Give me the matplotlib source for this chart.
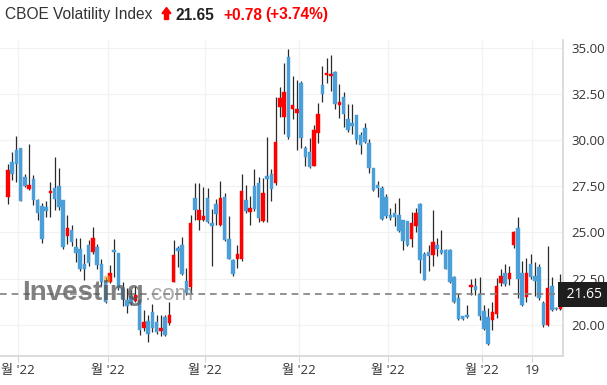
import matplotlib
matplotlib.use("Agg")
import matplotlib.pyplot as plt
import matplotlib.transforms as mtransforms
from matplotlib.patches import Polygon, Rectangle

# daily candles (oldest first)
opens = [26.91, 28.83, 29.44, 29.55, 28.00, 27.35, 27.87, 26.73, 26.41, 26.39,
         27.13, 27.38, 27.49, 26.73, 24.82, 25.11, 24.24, 24.08, 23.27, 24.31,
         23.94, 24.24, 23.32, 22.34, 22.34, 24.06, 23.88, 21.98, 21.35, 21.57,
         21.30, 21.35, 19.82, 20.23, 20.68, 20.18, 19.69, 20.45, 20.09, 22.34,
         24.15, 24.33, 22.38, 22.03, 26.84, 25.70, 25.70, 26.88, 25.49, 26.52,
         25.43, 26.93, 24.66, 23.50, 23.54, 23.54, 26.73, 26.10, 27.51, 27.69,
         25.61, 28.05, 28.18, 27.65, 31.79, 31.25, 34.51, 31.66, 31.48, 33.10,
         29.55, 29.37, 28.59, 30.36, 32.96, 33.50, 33.47, 33.68, 31.90, 32.33,
         31.12, 30.94, 31.34, 30.27, 30.67, 29.82, 28.47, 27.56, 27.42, 26.91,
         25.97, 26.03, 25.97, 25.65, 25.61, 24.67, 25.34, 26.52, 23.86, 23.97,
         23.77, 24.30, 24.03, 24.04, 24.03, 22.58, 21.46, 20.47, 20.56, 22.04,
         22.09, 21.70, 20.78, 20.42, 20.24, 20.61, 22.27, 22.82, 22.51, 24.35,
         25.22, 22.82, 21.50, 23.27, 22.64, 23.14, 21.19, 20.02, 22.11, 20.90,
         20.87]
highs = [28.68, 29.35, 30.22, 29.58, 28.14, 29.80, 28.09, 26.79, 26.61, 26.70,
         27.74, 29.06, 28.47, 26.75, 25.92, 25.43, 24.71, 24.68, 23.81, 24.60,
         25.31, 24.40, 23.54, 22.61, 23.25, 24.64, 23.90, 22.30, 21.98, 21.89,
         22.13, 21.40, 20.81, 20.54, 21.13, 20.54, 20.54, 20.54, 21.22, 24.60,
         24.28, 24.78, 23.07, 25.95, 27.69, 27.69, 27.45, 27.42, 26.28, 26.79,
         27.78, 27.15, 25.88, 23.54, 24.35, 28.14, 27.55, 26.97, 28.45, 28.00,
         27.96, 30.16, 28.41, 32.35, 32.89, 34.19, 34.95, 33.48, 33.25, 33.19,
         29.67, 30.13, 30.79, 32.02, 34.01, 34.46, 34.58, 33.74, 33.01, 32.62,
         31.97, 31.93, 31.34, 30.45, 30.94, 30.04, 28.50, 27.78, 27.51, 27.06,
         26.34, 26.61, 26.88, 25.65, 25.61, 26.10, 26.34, 26.57, 23.93, 24.30,
         26.21, 24.71, 25.16, 24.12, 24.12, 22.67, 21.73, 20.51, 21.10, 22.49,
         22.54, 22.60, 21.10, 20.92, 21.23, 22.54, 23.00, 23.27, 23.21, 25.07,
         25.85, 23.45, 23.63, 23.81, 23.39, 23.32, 21.28, 24.26, 22.58, 20.95,
         22.76]
lows = [26.52, 27.85, 27.74, 26.68, 27.45, 27.29, 26.46, 25.69, 24.44, 25.83,
        25.83, 26.23, 26.23, 24.12, 24.40, 24.26, 23.39, 22.91, 22.42, 23.21,
        23.81, 23.01, 22.09, 21.17, 22.25, 22.61, 21.89, 21.00, 20.63, 21.08,
        21.25, 19.46, 19.69, 19.10, 19.64, 19.51, 19.41, 19.41, 20.00, 22.34,
        23.16, 22.70, 21.62, 21.66, 25.70, 25.16, 25.61, 25.52, 23.18, 25.43,
        25.34, 24.53, 23.54, 22.64, 23.09, 23.45, 26.07, 25.43, 26.16, 25.56,
        25.56, 25.56, 26.70, 27.56, 31.25, 30.34, 30.04, 31.16, 29.44, 29.58,
        28.59, 28.47, 28.59, 29.86, 32.06, 33.10, 32.65, 31.70, 31.21, 30.72,
        30.43, 30.31, 29.80, 29.22, 29.82, 28.23, 27.24, 26.93, 25.70, 25.79,
        25.70, 25.34, 25.02, 24.03, 24.26, 24.22, 25.02, 22.82, 22.42, 22.91,
        23.21, 23.72, 23.81, 23.00, 22.27, 21.19, 20.29, 20.25, 20.38, 21.64,
        21.64, 20.29, 19.75, 18.90, 19.75, 20.38, 22.13, 22.09, 22.18, 24.17,
        21.46, 21.01, 21.23, 22.49, 21.55, 21.37, 19.89, 19.93, 20.76, 20.80,
        20.80]
closes = [28.36, 28.18, 28.72, 26.71, 27.51, 27.56, 26.75, 26.06, 24.64, 26.17,
          27.27, 26.80, 26.39, 24.19, 25.25, 24.49, 23.90, 23.05, 23.01, 23.36,
          24.68, 23.25, 22.33, 21.26, 22.79, 23.92, 21.98, 21.40, 21.05, 21.21,
          21.62, 19.73, 20.14, 19.51, 19.86, 19.64, 19.86, 19.46, 20.54, 23.79,
          24.00, 22.76, 21.75, 25.53, 26.21, 26.19, 25.87, 25.56, 25.34, 26.01,
          26.88, 24.62, 23.59, 22.73, 23.85, 27.27, 26.16, 26.30, 26.28, 25.76,
          27.15, 27.91, 27.33, 29.91, 32.29, 32.62, 30.16, 31.88, 31.70, 30.09,
          29.08, 28.54, 30.52, 31.39, 32.47, 33.65, 33.59, 31.93, 32.06, 31.39,
          30.54, 30.76, 30.00, 29.73, 29.89, 28.50, 27.29, 27.42, 25.74, 25.88,
          25.79, 25.83, 25.07, 24.53, 24.31, 25.52, 26.06, 23.50, 22.45, 23.72,
          24.49, 24.08, 23.90, 23.03, 22.31, 21.23, 20.32, 20.32, 20.42, 22.18,
          21.88, 20.51, 19.80, 18.97, 20.70, 22.13, 22.67, 22.22, 22.82, 25.02,
          22.51, 21.10, 22.82, 22.58, 22.36, 21.46, 20.02, 22.00, 20.81, 20.87,
          21.65]

tick_pos = [2.35, 23.5, 46.4, 68.5, 89.4, 111.5, 123.3]
tick_labels = ["월 '22", "월 '22", "월 '22", "월 '22", "월 '22", "월 '22", "19"]
y_ticks = [20.0, 22.5, 25.0, 27.5, 30.0, 32.5, 35.0]

last_price = 21.65
change = "+0.78"
change_pct = "(+3.74%)"

UP = '#ff0000'
DOWN = '#4a9fd8'
FONT = ['Open Sans', 'Noto Sans CJK KR', 'DejaVu Sans']

W, H = 607, 385
fig = plt.figure(figsize=(W / 100, H / 100), dpi=100)


def fx(px):
    return px / W


def fy(py):
    return 1 - py / H


ax = fig.add_axes([0, fy(356), fx(563), (356 - 40) / H])

idx = list(range(len(opens)))
colors = [UP if c >= o else DOWN for o, c in zip(opens, closes)]
heights = [c - o for o, c in zip(opens, closes)]

ax.vlines(idx, lows, highs, color='#2a2a2a', lw=0.9, zorder=2)
ax.bar(idx, heights, bottom=opens, width=0.82, color=colors, zorder=3,
       edgecolor=colors, linewidth=0.3)

ax.axhline(last_price, color='#808080', lw=1.2, dashes=(4, 3), zorder=4)

ax.set_xlim(-1.88, 130.6)
ax.set_ylim(18.32, 35.41)

ax.yaxis.tick_right()
ax.set_yticks(y_ticks)
ax.set_yticklabels([f'{v:.2f}' for v in y_ticks], family=FONT, fontsize=9.5, color='#333333')
ax.set_xticks(tick_pos)
ax.set_xticklabels(tick_labels, family=FONT, fontsize=9.5, color='#333333')
ax.tick_params(axis='y', length=0, pad=6)
ax.tick_params(axis='x', length=4, color='#d6d6d6', pad=2)

ax.grid(True, color='#f2f2f2', lw=0.9, zorder=0)
ax.set_axisbelow(True)
for s in ['left', 'top']:
    ax.spines[s].set_visible(False)
for s in ['right', 'bottom']:
    ax.spines[s].set_color('#d6d6d6')
    ax.spines[s].set_linewidth(1.2)

# last price tag on the right axis
trans = mtransforms.blended_transform_factory(ax.transAxes, ax.transData)
ax.text(1.0, last_price, f' {last_price:.2f} ', transform=trans, ha='left', va='center',
        fontsize=10, color='white', family=FONT, clip_on=False, zorder=6,
        bbox=dict(boxstyle='square,pad=0.35', fc='#1e1e1e', ec='none'))

# watermark
fig.text(fx(22), fy(300), 'Investing', fontsize=20, fontweight='bold', color='#555555',
         alpha=0.75, family='Liberation Sans', va='baseline', zorder=5)
fig.text(fx(145), fy(300), '.com', fontsize=16, color='#8a8a8a', alpha=0.75,
         family='Liberation Sans', va='baseline', zorder=5)
fig.patches.append(Rectangle((fx(104), fy(281)), fx(5), 5 / H, transform=fig.transFigure,
                             color='#f5a623', alpha=0.5, zorder=5))

# header
fig.text(fx(5), fy(19.5), 'CBOE Volatility Index', fontsize=11.2, color='#333333',
         family='Liberation Sans', va='baseline')
arrow = [(162, 13.5), (166.5, 7.5), (171, 13.5), (168.5, 13.5), (168.5, 19.5),
         (164.5, 19.5), (164.5, 13.5)]
fig.patches.append(Polygon([(fx(a), fy(b)) for a, b in arrow], closed=True,
                           transform=fig.transFigure, color=UP))
fig.text(fx(176), fy(19.5), f'{last_price:.2f}', fontsize=11.2, fontweight='bold',
         color='#222222', family='Liberation Sans', va='baseline')
fig.text(fx(223), fy(19.5), change, fontsize=11.2, fontweight='bold', color=UP,
         family='Liberation Sans', va='baseline')
fig.text(fx(265), fy(19.5), change_pct, fontsize=11.2, fontweight='bold', color=UP,
         family='Liberation Sans', va='baseline')

fig.savefig('out.png', dpi=100)
